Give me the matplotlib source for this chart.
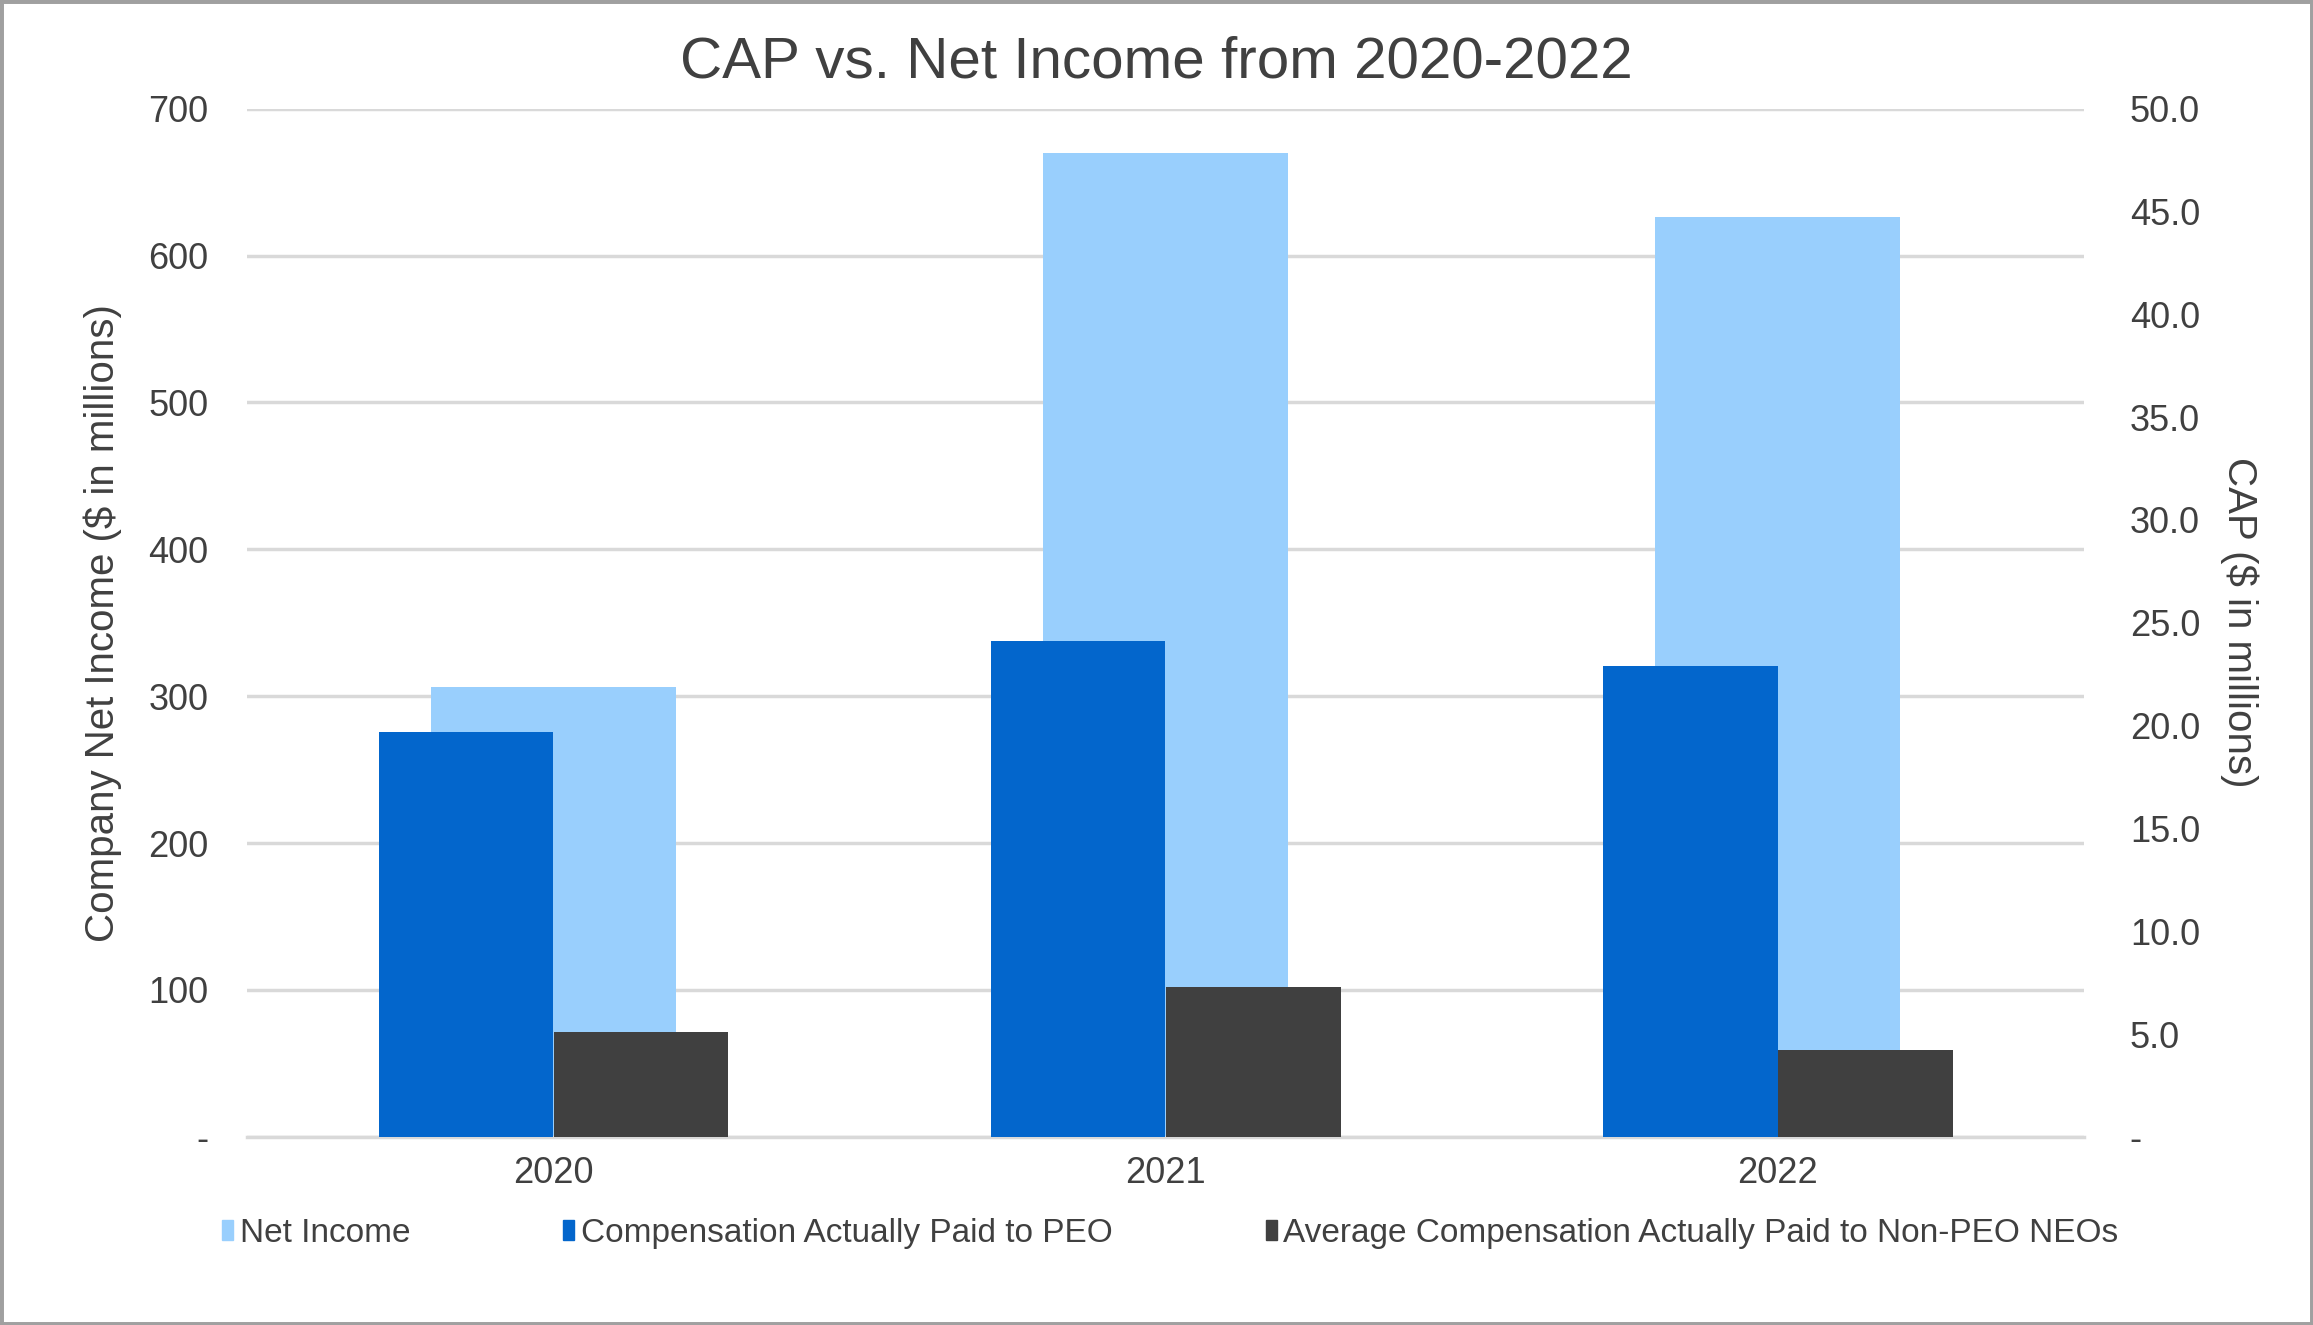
import numpy as np
import matplotlib
matplotlib.use('Agg')
import matplotlib.pyplot as plt
from matplotlib.patches import Rectangle, Patch
from matplotlib.ticker import FixedLocator, FuncFormatter
from matplotlib import font_manager

plt.rcParams['font.family'] = ['Liberation Sans', 'DejaVu Sans']

# Data
years = ['2020', '2021', '2022']
net_income = [306, 670, 626]          # $ millions, left axis
cap_peo = [19.7, 24.1, 22.9]          # $ millions, right axis
cap_non_peo = [5.1, 7.3, 4.2]         # $ millions, right axis

c_net = '#99CFFD'
c_peo = '#0366CC'
c_non = '#404040'
txt = '#404040'

fig = plt.figure(figsize=(23.13, 13.25), dpi=100)
ax = fig.add_axes([0.107, 0.142, 0.794, 0.776])
ax2 = ax.twinx()

x = np.arange(len(years))
ax.bar(x, net_income, width=0.40, color=c_net, zorder=2)
ax2.bar(x - 0.143, cap_peo, width=0.285, color=c_peo, zorder=2)
ax2.bar(x + 0.143, cap_non_peo, width=0.285, color=c_non, zorder=2)

ax.set_xlim(-0.5, 2.5)
ax.set_ylim(0, 700)
ax2.set_ylim(0, 50)
ax.set_xticks(x)
ax.set_xticklabels(years)

ax.yaxis.set_major_locator(FixedLocator(np.arange(0, 701, 100)))
ax2.yaxis.set_major_locator(FixedLocator(np.arange(0, 51, 5)))
ax.yaxis.set_major_formatter(FuncFormatter(lambda v, p: '-' if v == 0 else f'{v:.0f}'))
ax2.yaxis.set_major_formatter(FuncFormatter(lambda v, p: '-' if v == 0 else f'{v:.1f}'))

ax.set_axisbelow(True)
ax.grid(axis='y', color='#D9D9D9', linewidth=2.5, zorder=0)

for a in (ax, ax2):
    for s in a.spines.values():
        s.set_visible(False)
    a.tick_params(length=0, labelsize=26, colors=txt)
ax.spines['bottom'].set_visible(True)
ax.spines['bottom'].set_color('#D9D9D9')
ax.spines['bottom'].set_linewidth(2.5)
ax.tick_params(axis='x', pad=14)
ax.tick_params(axis='y', pad=28)
ax2.tick_params(axis='y', pad=33)

ax.set_ylabel('Company Net Income ($ in millions)', fontsize=29, color=txt, labelpad=19)
ax2.set_ylabel('CAP ($ in millions)', fontsize=29, color=txt, rotation=270, labelpad=42)

fig.text(0.5, 0.953, 'CAP vs. Net Income from 2020-2022', ha='center', va='center',
         fontsize=42, color=txt)

# legend text in the reference is tall and condensed
names = {f.name for f in font_manager.fontManager.ttflist}
if 'Liberation Sans Narrow' in names:
    leg_font = {'family': ['Liberation Sans Narrow', 'Liberation Sans'], 'size': 29}
    colsp = 4.65
else:
    leg_font = {'family': ['Liberation Sans'], 'size': 24}
    colsp = 4.6

handles = [Patch(color=c_net, label='Net Income'),
           Patch(color=c_peo, label='Compensation Actually Paid to PEO'),
           Patch(color=c_non, label='Average Compensation Actually Paid to Non-PEO NEOs')]
fig.legend(handles=handles, loc='center', bbox_to_anchor=(0.506, 0.069), ncol=3,
           frameon=False, prop=leg_font, labelcolor=txt, handlelength=0.32,
           handleheight=0.55, handletextpad=0.2, columnspacing=colsp)

fig.add_artist(Rectangle((0, 0), 1, 1, transform=fig.transFigure, fill=False,
                         edgecolor='#A0A0A0', linewidth=5))

fig.savefig('out.png', dpi=100)
